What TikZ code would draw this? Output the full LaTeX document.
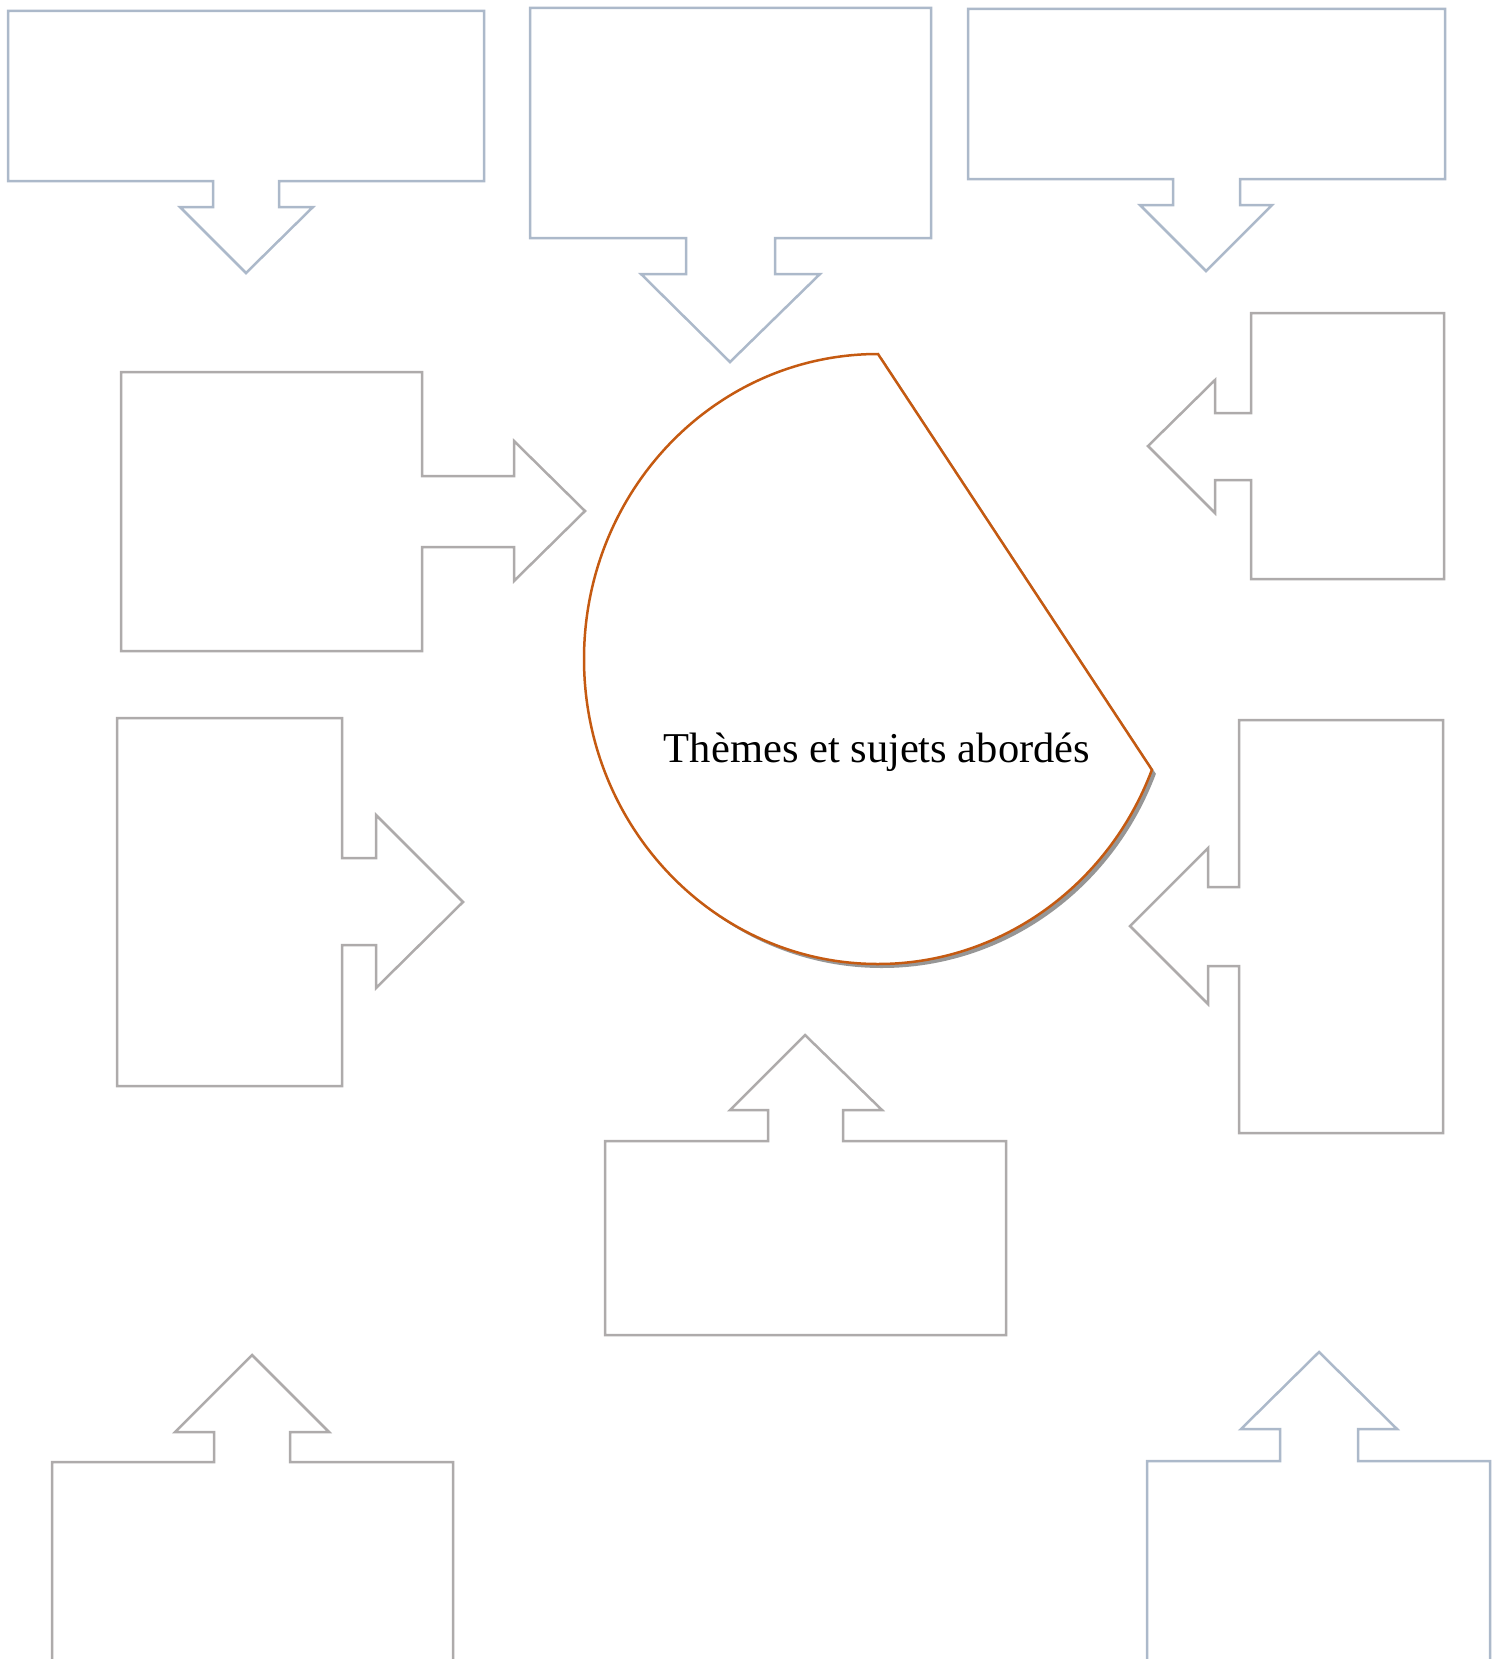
\documentclass[tikz,border=0pt]{standalone}
\usepackage{fontspec}
\setmainfont{Liberation Serif}
\definecolor{bluegray}{RGB}{172,185,202}
\definecolor{graybox}{RGB}{174,171,171}
\definecolor{orangeline}{RGB}{197,90,17}
\definecolor{shadowgray}{RGB}{150,150,150}
\tikzset{
  calloutblue/.style={draw=bluegray, line width=2.5pt, fill=white, line join=miter},
  calloutgray/.style={draw=graybox, line width=2.5pt, fill=white, line join=miter},
  chordline/.style={draw=orangeline, line width=2.5pt, fill=white},
  chordshadow/.style={fill=shadowgray},
  titletext/.style={font=\fontsize{42.5}{48}\selectfont, text=black, inner sep=0pt, anchor=base}
}
\begin{document}
\begin{tikzpicture}[x=1pt,y=-1pt]
\useasboundingbox (0,0) rectangle (1503,1659);
\clip (0,0) rectangle (1503,1659);
% top row (blue-gray, pointing down)
\draw[calloutblue] (8,11) -- (484,11) -- (484,181) -- (279,181) -- (279,207) -- (313,207) -- (246,273) -- (180,207) -- (213,207) -- (213,181) -- (8,181) -- cycle;
\draw[calloutblue] (530,8) -- (931,8) -- (931,238) -- (775,238) -- (775,274) -- (820,274) -- (730,362) -- (641,274) -- (686,274) -- (686,238) -- (530,238) -- cycle;
\draw[calloutblue] (968,9) -- (1445,9) -- (1445,179) -- (1240,179) -- (1240,205) -- (1272,205) -- (1206,271) -- (1140,205) -- (1173,205) -- (1173,179) -- (968,179) -- cycle;
% left, pointing right
\draw[calloutgray] (121,372) -- (422,372) -- (422,476) -- (514,476) -- (514,441) -- (585,511) -- (514,581) -- (514,547) -- (422,547) -- (422,651) -- (121,651) -- cycle;
\draw[calloutgray] (117,718) -- (342,718) -- (342,858) -- (376,858) -- (376,815) -- (463,902) -- (376,988) -- (376,945) -- (342,945) -- (342,1086) -- (117,1086) -- cycle;
% right, pointing left
\draw[calloutgray] (1251,313) -- (1444,313) -- (1444,579) -- (1251,579) -- (1251,480) -- (1215,480) -- (1215,513) -- (1148,446) -- (1215,380) -- (1215,413) -- (1251,413) -- cycle;
\draw[calloutgray] (1239,720) -- (1443,720) -- (1443,1133) -- (1239,1133) -- (1239,966) -- (1208,966) -- (1208,1004) -- (1130,926) -- (1208,848) -- (1208,887) -- (1239,887) -- cycle;
% bottom, pointing up
\draw[calloutgray] (605,1141) -- (768,1141) -- (768,1110) -- (730,1110) -- (805,1035) -- (882,1110) -- (843,1110) -- (843,1141) -- (1006,1141) -- (1006,1335) -- (605,1335) -- cycle;
\draw[calloutgray] (52,1680) -- (52,1462) -- (214,1462) -- (214,1432) -- (175,1432) -- (252,1355) -- (329,1432) -- (290,1432) -- (290,1462) -- (453,1462) -- (453,1680);
\draw[calloutblue] (1147,1680) -- (1147,1461) -- (1280,1461) -- (1280,1429) -- (1241,1429) -- (1319,1352) -- (1397,1429) -- (1358,1429) -- (1358,1461) -- (1490,1461) -- (1490,1680);
% central chord shape
\fill[chordshadow, shift={(4,4)}] (878,354) arc[start angle=270, end angle=21.3, x radius=294, y radius=305] -- cycle;
\draw[chordline] (878,354) arc[start angle=270, end angle=21.3, x radius=294, y radius=305] -- cycle;
\node[titletext] (title) at (877,762) {Thèmes et sujets abordés};
\end{tikzpicture}
\end{document}
